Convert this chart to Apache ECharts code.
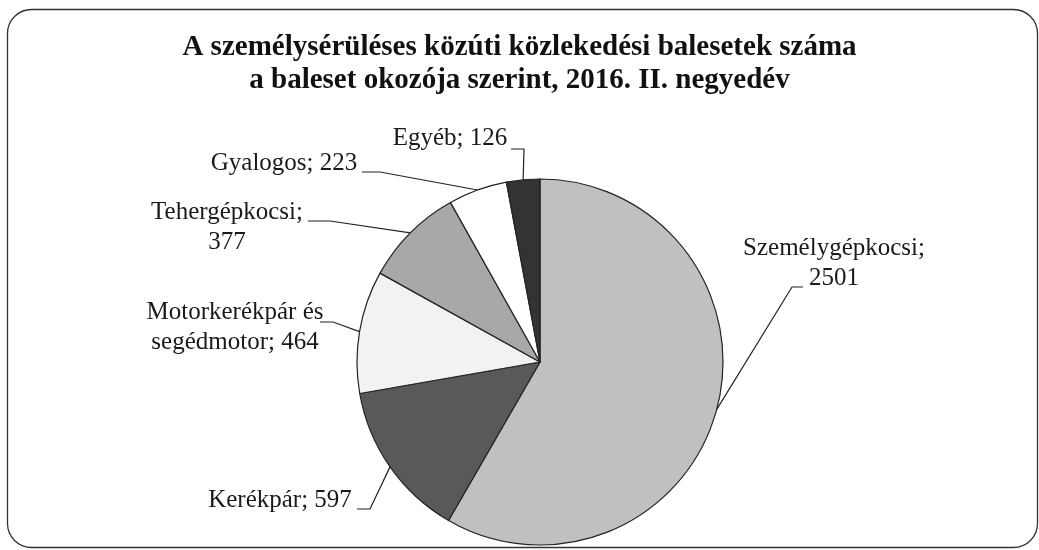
<!DOCTYPE html>
<html>
<head>
<meta charset="utf-8">
<script src="https://cdn.jsdelivr.net/npm/echarts@6/dist/echarts.min.js"></script>
<style>
html,body{margin:0;padding:0;background:#fff;}
#chart{width:1039px;height:550px;}
</style>
</head>
<body>
<div id="chart"></div>
<script>
// ---- data ----
var categories = ['Személygépkocsi', 'Kerékpár', 'Motorkerékpár és\nsegédmotor', 'Tehergépkocsi', 'Gyalogos', 'Egyéb'];
var labelTexts = ['Személygépkocsi;\n2501', 'Kerékpár; 597', 'Motorkerékpár és\nsegédmotor; 464', 'Tehergépkocsi;\n377', 'Gyalogos; 223', 'Egyéb; 126'];
var values = [2501, 597, 464, 377, 223, 126];
var colors = ['#bfc0c2', '#59595b', '#f1f2f2', '#a7a8aa', '#ffffff', '#333333'];
var titleText = 'A személysérüléses közúti közlekedési balesetek száma\na baleset okozója szerint, 2016. II. negyedév';

// ---- label layout (label centre, leader bend, leader end) ----
var labelLayouts = [
  {cx: 834, cy: 263, bend: [792, 287], end: [803, 287]},
  {cx: 280, cy: 500, bend: [370, 509], end: [357, 509]},
  {cx: 235, cy: 327, bend: [333, 322], end: [320, 322]},
  {cx: 227, cy: 227, bend: [330, 221], end: [308, 221]},
  {cx: 284, cy: 163, bend: [380, 172], end: [362, 172]},
  {cx: 450, cy: 138, bend: [524, 149], end: [511, 149]}
];

var FONT = '"Liberation Serif", "Times New Roman", serif';
var CX = 540, CY = 362, R = 183;

var total = values.reduce(function (a, b) { return a + b; }, 0);
function edgePoint(idx) {
  var before = 0;
  for (var i = 0; i < idx; i++) before += values[i];
  var mid = (before + values[idx] / 2) / total * Math.PI * 2;
  var ang = Math.PI / 2 - mid;
  return [CX + R * Math.cos(ang), CY - R * Math.sin(ang)];
}

var chart = echarts.init(document.getElementById('chart'), null, {renderer: 'canvas'});
var option = {
  backgroundColor: '#ffffff',
  animation: false,
  graphic: [{
    type: 'rect',
    shape: {x: 7.5, y: 9.5, width: 1030, height: 538, r: 24},
    style: {fill: 'none', stroke: '#333', lineWidth: 1.3},
    z: 100,
    silent: true
  }, {
    type: 'text',
    x: 519.5,
    y: 64,
    silent: true,
    style: {
      text: titleText,
      align: 'center',
      verticalAlign: 'middle',
      font: 'bold 29px ' + FONT,
      lineHeight: 33,
      fill: '#111'
    }
  }],
  series: [{
    type: 'pie',
    center: [CX, CY],
    radius: [0, R],
    startAngle: 90,
    clockwise: true,
    avoidLabelOverlap: false,
    data: values.map(function (v, i) {
      return {name: categories[i], value: v, itemStyle: {color: colors[i]}};
    }),
    itemStyle: {borderColor: '#222', borderWidth: 1.2},
    label: {
      show: true,
      position: 'outside',
      formatter: function (p) { return labelTexts[p.dataIndex]; },
      fontFamily: FONT,
      fontSize: 25,
      lineHeight: 30,
      color: '#1a1a1a',
      align: 'center'
    },
    labelLine: {
      show: true,
      length: 20,
      length2: 10,
      lineStyle: {color: '#222', width: 1.2}
    },
    labelLayout: function (params) {
      var L = labelLayouts[params.dataIndex];
      var p0 = (params.labelLinePoints && params.labelLinePoints[0]) || edgePoint(params.dataIndex);
      return {
        x: L.cx,
        y: L.cy,
        align: 'center',
        verticalAlign: 'middle',
        labelLinePoints: [p0, L.bend, L.end]
      };
    },
    emphasis: {disabled: true}
  }]
};
chart.setOption(option);
</script>
</body>
</html>
